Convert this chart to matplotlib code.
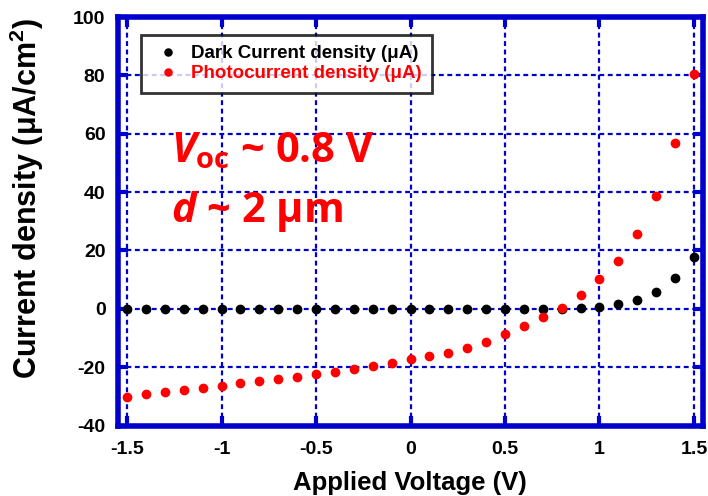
import matplotlib
matplotlib.use("Agg")
import matplotlib.pyplot as plt
import numpy as np

# applied voltage (V)
voltage = [-1.5, -1.4, -1.3, -1.2, -1.1, -1.0, -0.9, -0.8, -0.7, -0.6, -0.5,
           -0.4, -0.3, -0.2, -0.1, 0.0, 0.1, 0.2, 0.3, 0.4, 0.5,
           0.6, 0.7, 0.8, 0.9, 1.0, 1.1, 1.2, 1.3, 1.4, 1.5]

dark_current = [0, 0, 0, 0, 0, 0, 0, 0, 0, 0, 0,
                0, 0, 0, 0, 0, 0, 0, 0, 0, 0,
                0, 0, 0.1, 0.45, 0.8, 1.6, 3.0, 5.7, 10.5, 17.8]

photo_current = [-30.1, -29.3, -28.6, -27.8, -27.0, -26.3, -25.5, -24.8, -24.0, -23.3, -22.4,
                 -21.5, -20.5, -19.5, -18.6, -17.3, -16.0, -15.0, -13.3, -11.2, -8.7,
                 -5.9, -2.8, 0.2, 4.9, 10.1, 16.3, 25.8, 38.5, 56.9, 80.4]

x_ticks = [-1.5, -1, -0.5, 0, 0.5, 1, 1.5]
x_tick_labels = ["-1.5", "-1", "-0.5", "0", "0.5", "1", "1.5"]
y_ticks = [-40, -20, 0, 20, 40, 60, 80, 100]

blue = "#0000cc"
plt.rcParams['font.family'] = ['Liberation Sans', 'DejaVu Sans']
plt.rcParams['font.weight'] = 'bold'
plt.rcParams['axes.unicode_minus'] = False
plt.rcParams['mathtext.fontset'] = 'custom'
plt.rcParams['mathtext.rm'] = 'Open Sans:bold'
plt.rcParams['mathtext.it'] = 'Open Sans:bold:italic'

fig = plt.figure(figsize=(7.08, 4.96), dpi=100)
ax = fig.add_axes([118 / 708, 1 - 425.6 / 496, (703 - 118) / 708, (425.6 - 17) / 496])

ax.plot(voltage, dark_current, 'o', color='black', markersize=6, label=u'Dark Current density (\u03bcA)', zorder=3)
ax.plot(voltage, photo_current, 'o', color='#ff0000', markersize=6, label=u'Photocurrent density (\u03bcA)', zorder=3)

ax.set_xlim(-1.548, 1.548)
ax.set_ylim(-40, 100)
ax.set_xticks(x_ticks)
ax.set_xticklabels(x_tick_labels)
ax.set_yticks(y_ticks)

ax.grid(True, color=blue, linestyle=(0, (2.2, 1.6)), linewidth=1.6)
ax.set_axisbelow(True)
for s in ax.spines.values():
    s.set_color(blue)
    s.set_linewidth(4)
ax.tick_params(direction='in', length=7, width=3, color=blue, top=True, right=True,
               labelsize=14)
ax.tick_params(axis='x', pad=11)
ax.tick_params(axis='y', pad=9)

ax.set_xlabel('Applied Voltage (V)', fontsize=18.5, fontweight='bold', va='center')
ax.xaxis.set_label_coords(0.499, -0.140)
ax.set_ylabel(u'Current density (\u03bcA/cm$^{\\mathregular{2}}$)', fontsize=22, fontweight='bold', va='center')
ax.yaxis.set_label_coords(-0.155, 0.555)

leg = ax.legend(loc='upper left', bbox_to_anchor=(0.039, 0.956), fontsize=13.5, frameon=True,
                fancybox=False, edgecolor='black', handlelength=1.8, handletextpad=0.32,
                borderpad=0.55, labelspacing=0.15, borderaxespad=0, markerscale=0.85)
leg.get_frame().set_linewidth(2)
for t, c in zip(leg.get_texts(), ['black', '#ff0000']):
    t.set_color(c)
    t.set_fontweight('bold')

ax.text(-1.27, 54, r'$\mathit{V}_{\mathrm{oc}}$' + u' ~ 0.8 V', color='#ff0000', fontsize=30,
        fontfamily='Open Sans', fontweight='bold', va='center')
ax.text(-1.27, 33.5, r'$\mathit{d}$' + u' ~ 2 \u03bcm', color='#ff0000', fontsize=30,
        fontfamily='Open Sans', fontweight='bold', va='center')

fig.savefig('out.png', dpi=100)
